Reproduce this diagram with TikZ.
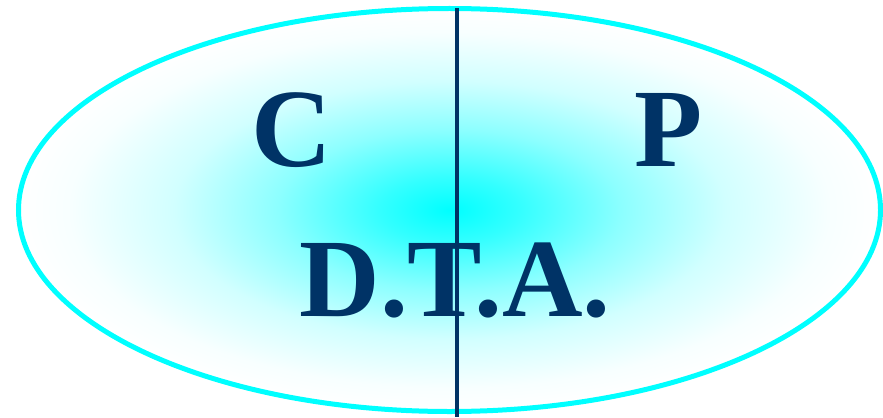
\documentclass[tikz,border=0pt]{standalone}
\usepackage{fontspec}
\setmainfont{Liberation Serif}[BoldFont={Liberation Serif Bold}]
\usepackage{tikz}
\usetikzlibrary{shapes.geometric,positioning}
\definecolor{glowCyan}{RGB}{0,255,255}
\definecolor{inkBlue}{RGB}{0,51,102}
\pgfdeclareradialshading{dtaglow}{\pgfpoint{0bp}{0bp}}{color(0bp)=(glowCyan); color(4bp)=(glowCyan!80!white); color(10bp)=(glowCyan!45!white); color(16bp)=(glowCyan!18!white); color(22bp)=(glowCyan!3!white); color(25bp)=(white); color(50bp)=(white)}
\newcommand{\bigletter}[1]{\fontsize{112}{120}\selectfont\bfseries #1}

\begin{document}
\begin{tikzpicture}[x=1bp,y=1bp,
  ring/.style={ellipse,draw=glowCyan,line width=5bp,shading=dtaglow,inner sep=0pt,minimum width=862bp,minimum height=403bp},
  letter/.style={text=inkBlue,anchor=base,inner sep=0pt}]
\useasboundingbox (0,0) rectangle (883,417);
\node[ring] (oval) at (449.5,207) {};
\coordinate (top) at (457,409);
\coordinate (bottom) at (457,0);
\draw[inkBlue,line width=3.5bp] (top) -- (bottom);
\node[letter] (C) at (292,251) {\bigletter{C}};
\node[letter] (P) at (668.5,251) {\bigletter{P}};
\node[letter] (dta) at (455,101) {\bigletter{D.T.A.}};
\end{tikzpicture}
\end{document}
